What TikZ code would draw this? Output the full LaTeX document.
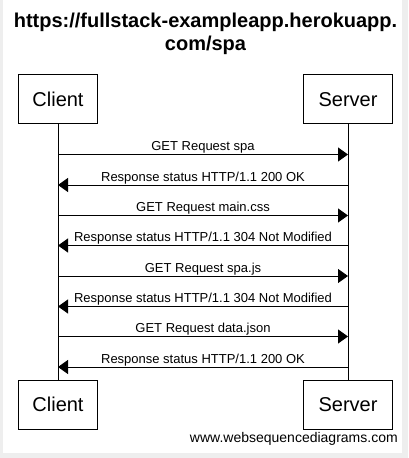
\documentclass[tikz,border=0pt]{standalone}
\usepackage{fontspec}
\setmainfont{Liberation Sans}
\usetikzlibrary{arrows.meta}
\definecolor{bggray}{HTML}{EEEEEE}
\begin{document}
\begin{tikzpicture}[x=0.75pt,y=-0.75pt,
  actor/.style={draw, line width=0.75pt, minimum height=36.75pt, inner sep=0pt,
    font=\fontsize{15}{18}\selectfont},
  msg/.style={-{Triangle[length=7.5pt,width=10.5pt]}, line width=0.75pt},
  lbl/.style={font=\fontsize{9.75}{12}\selectfont, anchor=base, inner sep=0pt, yshift=3pt},
  life/.style={line width=0.75pt}]
\useasboundingbox (0,0) rectangle (408,458);
\fill[bggray] (0,0) rectangle (408,458);
\fill[white] (3,0) rectangle (402,453);
\node[font=\fontsize{15}{17.25}\selectfont\bfseries, align=center, anchor=base, inner sep=0pt] (title) at (205.5,50)
  {https://fullstack-exampleapp.herokuapp.\\com/spa};
\node[actor, minimum width=59.25pt] (ct) at (58,99.25) {Client};
\node[actor, minimum width=66.75pt] (st) at (348,99.25) {Server};
\node[actor, minimum width=59.25pt] (cb) at (58,404.75) {Client};
\node[actor, minimum width=66.75pt] (sb) at (348,404.75) {Server};
\draw[life] (ct.south) -- (cb.north);
\draw[life] (st.south) -- (sb.north);
\foreach \i/\y in {1/154.5,2/185,3/215.5,4/245.5,5/276,6/306.5,7/336.5,8/367}{
  \coordinate (c\i) at (58,\y);
  \coordinate (s\i) at (348,\y);
}
\draw[msg] (c1) -- node[lbl]{GET Request spa} (s1);
\draw[msg] (s2) -- node[lbl]{Response status HTTP/1.1 200 OK} (c2);
\draw[msg] (c3) -- node[lbl]{GET Request main.css} (s3);
\draw[msg] (s4) -- node[lbl]{Response status HTTP/1.1 304 Not Modified} (c4);
\draw[msg] (c5) -- node[lbl]{GET Request spa.js} (s5);
\draw[msg] (s6) -- node[lbl]{Response status HTTP/1.1 304 Not Modified} (c6);
\draw[msg] (c7) -- node[lbl]{GET Request data.json} (s7);
\draw[msg] (s8) -- node[lbl]{Response status HTTP/1.1 200 OK} (c8);
\node[font=\fontsize{10.5}{12}\selectfont, anchor=base east, inner sep=0pt] (footer) at (398,442) {www.websequencediagrams.com};
\end{tikzpicture}
\end{document}
